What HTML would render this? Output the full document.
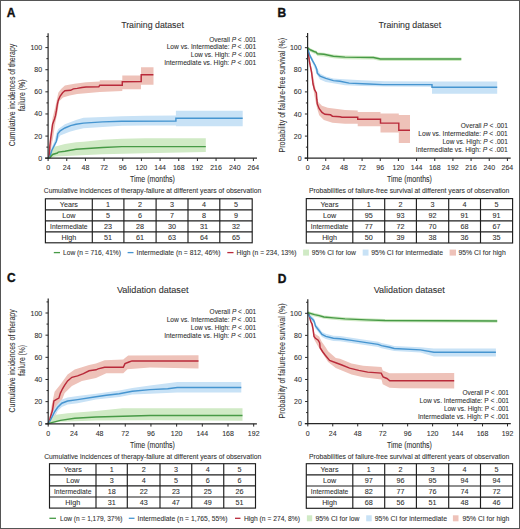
<!DOCTYPE html>
<html><head><meta charset="utf-8"><title>Figure</title>
<style>html,body{margin:0;padding:0;background:#fff;} svg{display:block;} text{font-family:"Liberation Sans",sans-serif;fill:#303030;stroke:#303030;stroke-width:0.08px;}</style>
</head><body>
<svg width="520" height="529" viewBox="0 0 520 529" font-family="Liberation Sans, sans-serif" fill="#3a3a3a">
<rect x="0" y="0" width="520" height="529" fill="#ffffff"/>
<polygon points="48.00,158.00 49.30,150.00 50.70,134.00 52.60,118.00 55.50,106.00 58.30,92.70 61.10,88.90 64.90,85.60 74.40,83.70 86.00,82.30 99.80,81.50 99.80,80.30 122.30,80.30 122.30,75.60 141.00,75.60 141.00,67.20 153.50,67.20 153.50,84.80 141.00,84.80 141.00,89.20 122.30,89.20 122.30,91.00 99.80,92.00 77.20,94.10 69.70,95.50 63.00,97.40 59.20,101.20 57.50,112.00 55.50,122.00 53.00,138.00 50.50,152.00 48.00,158.00" fill="#eec2b9"/>
<polygon points="48.00,158.00 51.00,149.00 54.50,141.00 56.50,133.00 58.30,128.90 64.90,124.20 76.00,119.90 83.50,117.70 121.90,116.20 145.00,115.80 175.90,115.60 175.90,110.70 242.70,110.70 242.70,126.30 175.90,126.30 175.90,125.50 145.00,125.40 121.90,125.80 83.50,128.30 76.00,129.90 69.70,131.80 60.20,135.50 57.60,140.00 54.50,148.00 51.50,154.00 48.00,158.00" fill="#c8e2f6"/>
<polygon points="48.00,158.00 50.50,152.00 53.60,146.90 64.90,144.10 76.00,142.20 83.50,141.70 102.70,139.80 121.90,138.80 145.00,138.20 205.80,138.20 205.80,151.90 145.00,153.30 102.70,154.20 76.00,155.40 55.50,156.40 50.00,158.00 48.00,158.00" fill="#d0eac5"/>
<polyline points="48.00,158.00 49.30,156.40 49.80,146.00 50.70,138.40 51.70,130.80 52.60,124.20 54.50,119.00 55.50,115.70 56.40,110.70 57.40,104.10 58.30,100.30 60.20,96.00 62.60,92.70 64.90,90.80 70.60,90.30 73.40,88.90 77.20,88.40 81.90,87.50 86.00,87.00 98.80,86.90 99.80,85.20 122.30,85.20 122.30,81.80 141.20,81.50 141.20,74.80 153.40,74.80" fill="none" stroke="#b92a3a" stroke-width="1.45" stroke-linejoin="miter"/>
<polyline points="48.00,158.00 49.80,157.30 51.70,150.70 54.50,145.00 56.40,141.20 57.40,136.50 57.80,133.70 60.20,130.80 64.90,128.00 70.60,125.60 76.00,124.20 83.50,123.10 102.70,121.90 121.90,121.20 175.90,121.10 175.90,118.30 242.70,118.30" fill="none" stroke="#4695d0" stroke-width="1.45" stroke-linejoin="miter"/>
<polyline points="48.00,158.00 49.80,157.80 52.60,154.50 57.40,153.00 58.30,152.10 64.90,151.20 76.00,149.30 83.50,148.80 102.70,147.50 121.90,146.60 205.80,146.60" fill="none" stroke="#479a46" stroke-width="1.45" stroke-linejoin="miter"/>
<line x1="48.1" y1="33.2" x2="48.1" y2="158.79999999999998" stroke="#262626" stroke-width="1.2"/>
<line x1="45.1" y1="158.2" x2="257" y2="158.2" stroke="#262626" stroke-width="1.2"/>
<line x1="45.4" y1="158.20" x2="48.1" y2="158.20" stroke="#262626" stroke-width="1"/>
<text x="42.10" y="160.70" font-size="7" text-anchor="end">0</text>
<line x1="46.4" y1="147.14" x2="48.1" y2="147.14" stroke="#262626" stroke-width="1"/>
<line x1="45.4" y1="136.08" x2="48.1" y2="136.08" stroke="#262626" stroke-width="1"/>
<text x="42.10" y="138.58" font-size="7" text-anchor="end">20</text>
<line x1="46.4" y1="125.02" x2="48.1" y2="125.02" stroke="#262626" stroke-width="1"/>
<line x1="45.4" y1="113.96" x2="48.1" y2="113.96" stroke="#262626" stroke-width="1"/>
<text x="42.10" y="116.46" font-size="7" text-anchor="end">40</text>
<line x1="46.4" y1="102.90" x2="48.1" y2="102.90" stroke="#262626" stroke-width="1"/>
<line x1="45.4" y1="91.84" x2="48.1" y2="91.84" stroke="#262626" stroke-width="1"/>
<text x="42.10" y="94.34" font-size="7" text-anchor="end">60</text>
<line x1="46.4" y1="80.78" x2="48.1" y2="80.78" stroke="#262626" stroke-width="1"/>
<line x1="45.4" y1="69.72" x2="48.1" y2="69.72" stroke="#262626" stroke-width="1"/>
<text x="42.10" y="72.22" font-size="7" text-anchor="end">80</text>
<line x1="46.4" y1="58.66" x2="48.1" y2="58.66" stroke="#262626" stroke-width="1"/>
<line x1="45.4" y1="47.60" x2="48.1" y2="47.60" stroke="#262626" stroke-width="1"/>
<text x="42.10" y="50.10" font-size="7" text-anchor="end">100</text>
<line x1="46.4" y1="36.54" x2="48.1" y2="36.54" stroke="#262626" stroke-width="1"/>
<line x1="48.10" y1="158.2" x2="48.10" y2="161.0" stroke="#262626" stroke-width="1"/>
<text x="48.10" y="170.20" font-size="7" text-anchor="middle">0</text>
<line x1="66.76" y1="158.2" x2="66.76" y2="161.0" stroke="#262626" stroke-width="1"/>
<text x="66.76" y="170.20" font-size="7" text-anchor="middle">24</text>
<line x1="85.43" y1="158.2" x2="85.43" y2="161.0" stroke="#262626" stroke-width="1"/>
<text x="85.43" y="170.20" font-size="7" text-anchor="middle">48</text>
<line x1="104.09" y1="158.2" x2="104.09" y2="161.0" stroke="#262626" stroke-width="1"/>
<text x="104.09" y="170.20" font-size="7" text-anchor="middle">72</text>
<line x1="122.75" y1="158.2" x2="122.75" y2="161.0" stroke="#262626" stroke-width="1"/>
<text x="122.75" y="170.20" font-size="7" text-anchor="middle">96</text>
<line x1="141.42" y1="158.2" x2="141.42" y2="161.0" stroke="#262626" stroke-width="1"/>
<text x="141.42" y="170.20" font-size="7" text-anchor="middle">120</text>
<line x1="160.08" y1="158.2" x2="160.08" y2="161.0" stroke="#262626" stroke-width="1"/>
<text x="160.08" y="170.20" font-size="7" text-anchor="middle">144</text>
<line x1="178.75" y1="158.2" x2="178.75" y2="161.0" stroke="#262626" stroke-width="1"/>
<text x="178.75" y="170.20" font-size="7" text-anchor="middle">168</text>
<line x1="197.41" y1="158.2" x2="197.41" y2="161.0" stroke="#262626" stroke-width="1"/>
<text x="197.41" y="170.20" font-size="7" text-anchor="middle">192</text>
<line x1="216.07" y1="158.2" x2="216.07" y2="161.0" stroke="#262626" stroke-width="1"/>
<text x="216.07" y="170.20" font-size="7" text-anchor="middle">216</text>
<line x1="234.74" y1="158.2" x2="234.74" y2="161.0" stroke="#262626" stroke-width="1"/>
<text x="234.74" y="170.20" font-size="7" text-anchor="middle">240</text>
<line x1="253.40" y1="158.2" x2="253.40" y2="161.0" stroke="#262626" stroke-width="1"/>
<text x="253.40" y="170.20" font-size="7" text-anchor="middle">264</text>
<text x="6.80" y="16.90" font-size="12" font-weight="bold" style="fill:#111111;stroke:#111111;stroke-width:0.35px">A</text>
<text x="121.15" y="27.80" font-size="9.6" textLength="62.7" lengthAdjust="spacingAndGlyphs">Training dataset</text>
<text x="209.20" y="41.50" font-size="7.4" textLength="47.0" lengthAdjust="spacingAndGlyphs">Overall <tspan font-style="italic">P</tspan> &lt; .001</text>
<text x="166.70" y="49.20" font-size="7.4" textLength="89.5" lengthAdjust="spacingAndGlyphs">Low vs. Intermediate: <tspan font-style="italic">P</tspan> &lt; .001</text>
<text x="190.80" y="57.10" font-size="7.4" textLength="65.39999999999998" lengthAdjust="spacingAndGlyphs">Low vs. High: <tspan font-style="italic">P</tspan> &lt; .001</text>
<text x="164.20" y="64.80" font-size="7.4" textLength="92.0" lengthAdjust="spacingAndGlyphs">Intermediate vs. High: <tspan font-style="italic">P</tspan> &lt; .001</text>
<text x="-51.25" y="0" transform="translate(15.30,95.00) rotate(-90)" font-size="8.8" textLength="102.5" lengthAdjust="spacingAndGlyphs">Cumulative incidences of therapy</text>
<text x="-15.75" y="0" transform="translate(25.20,95.30) rotate(-90)" font-size="8.8" textLength="31.5" lengthAdjust="spacingAndGlyphs">failure (%)</text>
<text x="129.90" y="182.30" font-size="8.4" textLength="45" lengthAdjust="spacingAndGlyphs">Time (months)</text>
<text x="43.80" y="193.20" font-size="7.6" textLength="217.4" lengthAdjust="spacingAndGlyphs">Cumulative incidences of therapy-failure at different years of observation</text>
<rect x="45.4" y="198.8" width="206.79999999999998" height="44.0" fill="none" stroke="#1e1e1e" stroke-width="1.15"/>
<line x1="45.4" y1="209.8" x2="252.2" y2="209.8" stroke="#1e1e1e" stroke-width="1.15"/>
<line x1="45.4" y1="220.8" x2="252.2" y2="220.8" stroke="#1e1e1e" stroke-width="1.15"/>
<line x1="45.4" y1="231.8" x2="252.2" y2="231.8" stroke="#1e1e1e" stroke-width="1.15"/>
<line x1="92.3" y1="198.8" x2="92.3" y2="242.8" stroke="#1e1e1e" stroke-width="1.15"/>
<line x1="123.9" y1="198.8" x2="123.9" y2="242.8" stroke="#1e1e1e" stroke-width="1.15"/>
<line x1="156.1" y1="198.8" x2="156.1" y2="242.8" stroke="#1e1e1e" stroke-width="1.15"/>
<line x1="188" y1="198.8" x2="188" y2="242.8" stroke="#1e1e1e" stroke-width="1.15"/>
<line x1="219.8" y1="198.8" x2="219.8" y2="242.8" stroke="#1e1e1e" stroke-width="1.15"/>
<text x="68.85" y="206.90" font-size="7.2" text-anchor="middle">Years</text>
<text x="108.10" y="206.90" font-size="7.2" text-anchor="middle">1</text>
<text x="140.00" y="206.90" font-size="7.2" text-anchor="middle">2</text>
<text x="172.05" y="206.90" font-size="7.2" text-anchor="middle">3</text>
<text x="203.90" y="206.90" font-size="7.2" text-anchor="middle">4</text>
<text x="236.00" y="206.90" font-size="7.2" text-anchor="middle">5</text>
<text x="68.85" y="217.90" font-size="7.2" text-anchor="middle">Low</text>
<text x="108.10" y="217.90" font-size="7.2" text-anchor="middle">5</text>
<text x="140.00" y="217.90" font-size="7.2" text-anchor="middle">6</text>
<text x="172.05" y="217.90" font-size="7.2" text-anchor="middle">7</text>
<text x="203.90" y="217.90" font-size="7.2" text-anchor="middle">8</text>
<text x="236.00" y="217.90" font-size="7.2" text-anchor="middle">9</text>
<text x="50.10" y="228.90" font-size="7.2" textLength="37.5" lengthAdjust="spacingAndGlyphs">Intermediate</text>
<text x="108.10" y="228.90" font-size="7.2" text-anchor="middle">23</text>
<text x="140.00" y="228.90" font-size="7.2" text-anchor="middle">28</text>
<text x="172.05" y="228.90" font-size="7.2" text-anchor="middle">30</text>
<text x="203.90" y="228.90" font-size="7.2" text-anchor="middle">31</text>
<text x="236.00" y="228.90" font-size="7.2" text-anchor="middle">32</text>
<text x="68.85" y="239.90" font-size="7.2" text-anchor="middle">High</text>
<text x="108.10" y="239.90" font-size="7.2" text-anchor="middle">51</text>
<text x="140.00" y="239.90" font-size="7.2" text-anchor="middle">61</text>
<text x="172.05" y="239.90" font-size="7.2" text-anchor="middle">63</text>
<text x="203.90" y="239.90" font-size="7.2" text-anchor="middle">64</text>
<text x="236.00" y="239.90" font-size="7.2" text-anchor="middle">65</text>
<line x1="53.8" y1="252.6" x2="60" y2="252.6" stroke="#479a46" stroke-width="1.3"/>
<text x="63.00" y="255.10" font-size="7.2" textLength="58" lengthAdjust="spacingAndGlyphs">Low (n = 716, 41%)</text>
<line x1="127.6" y1="252.6" x2="133.5" y2="252.6" stroke="#4695d0" stroke-width="1.3"/>
<text x="136.50" y="255.10" font-size="7.2" textLength="84" lengthAdjust="spacingAndGlyphs">Intermediate (n = 812, 46%)</text>
<line x1="227.3" y1="252.6" x2="233.5" y2="252.6" stroke="#b92a3a" stroke-width="1.3"/>
<text x="236.60" y="255.10" font-size="7.2" textLength="60" lengthAdjust="spacingAndGlyphs">High (n = 234, 13%)</text>
<rect x="303.1" y="249.6" width="5.899999999999977" height="6" fill="#d0eac5"/>
<text x="311.80" y="255.10" font-size="7.2" textLength="44" lengthAdjust="spacingAndGlyphs">95% CI for low</text>
<rect x="362.7" y="249.6" width="5.800000000000011" height="6" fill="#c8e2f6"/>
<text x="371.30" y="255.10" font-size="7.2" textLength="71.7" lengthAdjust="spacingAndGlyphs">95% CI for intermediate</text>
<rect x="449.6" y="249.6" width="6.399999999999977" height="6" fill="#eec2b9"/>
<text x="458.50" y="255.10" font-size="7.2" textLength="47.2" lengthAdjust="spacingAndGlyphs">95% CI for high</text>
<polygon points="307.50,47.70 309.00,56.00 312.00,70.00 315.00,86.00 318.20,102.00 322.00,105.80 327.70,107.70 345.00,110.10 357.70,110.50 357.70,112.00 380.50,112.00 380.50,113.50 398.80,113.50 398.80,115.00 410.00,115.00 410.00,143.10 398.80,143.10 398.80,132.60 380.50,132.60 380.50,126.20 357.70,126.20 357.70,123.80 345.00,123.80 332.40,122.80 323.90,120.00 319.20,115.30 317.00,108.00 314.50,96.00 312.00,80.00 309.50,64.00 307.50,48.00" fill="#eec2b9"/>
<polygon points="307.50,47.70 310.00,54.00 313.00,59.00 316.50,67.00 320.00,73.50 325.80,76.50 333.40,78.40 340.00,79.00 361.70,80.30 385.00,81.30 432.00,81.50 497.20,81.50 497.20,93.70 432.00,93.70 432.00,86.80 385.00,86.60 361.70,86.10 345.00,85.20 325.80,81.90 320.00,79.50 317.00,74.50 313.00,64.00 310.00,57.00 307.50,48.00" fill="#c8e2f6"/>
<polygon points="307.50,46.10 307.80,46.50 310.70,48.40 314.00,49.90 316.40,50.80 317.30,52.20 323.90,52.70 333.40,54.60 345.00,55.50 373.40,55.90 380.40,57.40 420.00,57.40 461.30,57.40 461.30,61.10 420.00,61.10 380.40,61.10 373.40,59.60 345.00,59.20 333.40,58.30 323.90,56.40 317.30,55.90 316.40,54.50 314.00,53.60 310.70,52.10 307.80,50.20 307.50,49.80" fill="#d0eac5"/>
<polyline points="307.50,47.70 308.30,51.50 309.30,60.90 310.20,65.70 311.60,72.30 313.00,84.00 314.50,89.70 316.40,93.00 316.80,99.20 317.30,103.90 319.20,108.70 322.00,112.40 324.90,114.30 330.50,114.80 332.40,116.20 340.00,116.70 341.90,117.30 357.70,117.30 357.70,119.20 380.50,119.20 380.50,123.10 398.80,123.10 398.80,130.30 410.00,130.30" fill="none" stroke="#b92a3a" stroke-width="1.45" stroke-linejoin="miter"/>
<polyline points="307.50,47.70 308.30,50.50 309.70,55.20 312.60,60.90 315.40,65.70 316.80,69.40 317.30,73.20 320.10,76.10 325.80,78.40 333.40,80.60 340.00,81.30 349.20,83.10 368.80,84.00 382.70,84.60 432.00,84.60 432.00,87.20 497.20,87.20" fill="none" stroke="#4695d0" stroke-width="1.45" stroke-linejoin="miter"/>
<polyline points="307.50,47.70 307.80,48.10 310.70,50.00 314.00,51.50 316.40,52.40 317.30,53.80 323.90,54.30 333.40,56.20 345.00,57.10 373.40,57.50 380.40,59.00 420.00,59.00 461.30,59.00" fill="none" stroke="#479a46" stroke-width="1.45" stroke-linejoin="miter"/>
<line x1="307.6" y1="33.0" x2="307.6" y2="158.79999999999998" stroke="#262626" stroke-width="1.2"/>
<line x1="304.6" y1="158.2" x2="510.7" y2="158.2" stroke="#262626" stroke-width="1.2"/>
<line x1="304.90000000000003" y1="158.20" x2="307.6" y2="158.20" stroke="#262626" stroke-width="1"/>
<text x="301.60" y="160.70" font-size="7" text-anchor="end">0</text>
<line x1="305.90000000000003" y1="147.15" x2="307.6" y2="147.15" stroke="#262626" stroke-width="1"/>
<line x1="304.90000000000003" y1="136.10" x2="307.6" y2="136.10" stroke="#262626" stroke-width="1"/>
<text x="301.60" y="138.60" font-size="7" text-anchor="end">20</text>
<line x1="305.90000000000003" y1="125.05" x2="307.6" y2="125.05" stroke="#262626" stroke-width="1"/>
<line x1="304.90000000000003" y1="114.00" x2="307.6" y2="114.00" stroke="#262626" stroke-width="1"/>
<text x="301.60" y="116.50" font-size="7" text-anchor="end">40</text>
<line x1="305.90000000000003" y1="102.95" x2="307.6" y2="102.95" stroke="#262626" stroke-width="1"/>
<line x1="304.90000000000003" y1="91.90" x2="307.6" y2="91.90" stroke="#262626" stroke-width="1"/>
<text x="301.60" y="94.40" font-size="7" text-anchor="end">60</text>
<line x1="305.90000000000003" y1="80.85" x2="307.6" y2="80.85" stroke="#262626" stroke-width="1"/>
<line x1="304.90000000000003" y1="69.80" x2="307.6" y2="69.80" stroke="#262626" stroke-width="1"/>
<text x="301.60" y="72.30" font-size="7" text-anchor="end">80</text>
<line x1="305.90000000000003" y1="58.75" x2="307.6" y2="58.75" stroke="#262626" stroke-width="1"/>
<line x1="304.90000000000003" y1="47.70" x2="307.6" y2="47.70" stroke="#262626" stroke-width="1"/>
<text x="301.60" y="50.20" font-size="7" text-anchor="end">100</text>
<line x1="305.90000000000003" y1="36.65" x2="307.6" y2="36.65" stroke="#262626" stroke-width="1"/>
<line x1="307.60" y1="158.2" x2="307.60" y2="161.0" stroke="#262626" stroke-width="1"/>
<text x="307.60" y="170.20" font-size="7" text-anchor="middle">0</text>
<line x1="325.76" y1="158.2" x2="325.76" y2="161.0" stroke="#262626" stroke-width="1"/>
<text x="325.76" y="170.20" font-size="7" text-anchor="middle">24</text>
<line x1="343.93" y1="158.2" x2="343.93" y2="161.0" stroke="#262626" stroke-width="1"/>
<text x="343.93" y="170.20" font-size="7" text-anchor="middle">48</text>
<line x1="362.09" y1="158.2" x2="362.09" y2="161.0" stroke="#262626" stroke-width="1"/>
<text x="362.09" y="170.20" font-size="7" text-anchor="middle">72</text>
<line x1="380.25" y1="158.2" x2="380.25" y2="161.0" stroke="#262626" stroke-width="1"/>
<text x="380.25" y="170.20" font-size="7" text-anchor="middle">96</text>
<line x1="398.42" y1="158.2" x2="398.42" y2="161.0" stroke="#262626" stroke-width="1"/>
<text x="398.42" y="170.20" font-size="7" text-anchor="middle">120</text>
<line x1="416.58" y1="158.2" x2="416.58" y2="161.0" stroke="#262626" stroke-width="1"/>
<text x="416.58" y="170.20" font-size="7" text-anchor="middle">144</text>
<line x1="434.75" y1="158.2" x2="434.75" y2="161.0" stroke="#262626" stroke-width="1"/>
<text x="434.75" y="170.20" font-size="7" text-anchor="middle">168</text>
<line x1="452.91" y1="158.2" x2="452.91" y2="161.0" stroke="#262626" stroke-width="1"/>
<text x="452.91" y="170.20" font-size="7" text-anchor="middle">192</text>
<line x1="471.07" y1="158.2" x2="471.07" y2="161.0" stroke="#262626" stroke-width="1"/>
<text x="471.07" y="170.20" font-size="7" text-anchor="middle">216</text>
<line x1="489.24" y1="158.2" x2="489.24" y2="161.0" stroke="#262626" stroke-width="1"/>
<text x="489.24" y="170.20" font-size="7" text-anchor="middle">240</text>
<line x1="507.40" y1="158.2" x2="507.40" y2="161.0" stroke="#262626" stroke-width="1"/>
<text x="507.40" y="170.20" font-size="7" text-anchor="middle">264</text>
<text x="277.50" y="16.90" font-size="12" font-weight="bold" style="fill:#111111;stroke:#111111;stroke-width:0.35px">B</text>
<text x="378.50" y="27.80" font-size="9.6" textLength="62.6" lengthAdjust="spacingAndGlyphs">Training dataset</text>
<text x="460.80" y="128.10" font-size="7.4" textLength="47.0" lengthAdjust="spacingAndGlyphs">Overall <tspan font-style="italic">P</tspan> &lt; .001</text>
<text x="418.30" y="136.10" font-size="7.4" textLength="89.5" lengthAdjust="spacingAndGlyphs">Low vs. Intermediate: <tspan font-style="italic">P</tspan> &lt; .001</text>
<text x="442.50" y="143.90" font-size="7.4" textLength="65.30000000000001" lengthAdjust="spacingAndGlyphs">Low vs. High: <tspan font-style="italic">P</tspan> &lt; .001</text>
<text x="415.80" y="151.90" font-size="7.4" textLength="92.0" lengthAdjust="spacingAndGlyphs">Intermediate vs. High: <tspan font-style="italic">P</tspan> &lt; .001</text>
<text x="-57.25" y="0" transform="translate(284.90,95.20) rotate(-90)" font-size="8.6" textLength="114.5" lengthAdjust="spacingAndGlyphs">Probability of failure-free survival (%)</text>
<text x="386.90" y="182.30" font-size="8.4" textLength="45" lengthAdjust="spacingAndGlyphs">Time (months)</text>
<text x="309.00" y="193.20" font-size="7.6" textLength="200.4" lengthAdjust="spacingAndGlyphs">Probabilities of failure-free survival at different years of observation</text>
<rect x="306.3" y="198.6" width="206.3" height="44.400000000000006" fill="none" stroke="#1e1e1e" stroke-width="1.15"/>
<line x1="306.3" y1="209.7" x2="512.6" y2="209.7" stroke="#1e1e1e" stroke-width="1.15"/>
<line x1="306.3" y1="220.79999999999998" x2="512.6" y2="220.79999999999998" stroke="#1e1e1e" stroke-width="1.15"/>
<line x1="306.3" y1="231.89999999999998" x2="512.6" y2="231.89999999999998" stroke="#1e1e1e" stroke-width="1.15"/>
<line x1="352.8" y1="198.6" x2="352.8" y2="243.0" stroke="#1e1e1e" stroke-width="1.15"/>
<line x1="384.7" y1="198.6" x2="384.7" y2="243.0" stroke="#1e1e1e" stroke-width="1.15"/>
<line x1="416.4" y1="198.6" x2="416.4" y2="243.0" stroke="#1e1e1e" stroke-width="1.15"/>
<line x1="448.7" y1="198.6" x2="448.7" y2="243.0" stroke="#1e1e1e" stroke-width="1.15"/>
<line x1="480.5" y1="198.6" x2="480.5" y2="243.0" stroke="#1e1e1e" stroke-width="1.15"/>
<text x="329.55" y="206.75" font-size="7.2" text-anchor="middle">Years</text>
<text x="368.75" y="206.75" font-size="7.2" text-anchor="middle">1</text>
<text x="400.55" y="206.75" font-size="7.2" text-anchor="middle">2</text>
<text x="432.55" y="206.75" font-size="7.2" text-anchor="middle">3</text>
<text x="464.60" y="206.75" font-size="7.2" text-anchor="middle">4</text>
<text x="496.55" y="206.75" font-size="7.2" text-anchor="middle">5</text>
<text x="329.55" y="217.85" font-size="7.2" text-anchor="middle">Low</text>
<text x="368.75" y="217.85" font-size="7.2" text-anchor="middle">95</text>
<text x="400.55" y="217.85" font-size="7.2" text-anchor="middle">93</text>
<text x="432.55" y="217.85" font-size="7.2" text-anchor="middle">92</text>
<text x="464.60" y="217.85" font-size="7.2" text-anchor="middle">91</text>
<text x="496.55" y="217.85" font-size="7.2" text-anchor="middle">91</text>
<text x="310.80" y="228.95" font-size="7.2" textLength="37.5" lengthAdjust="spacingAndGlyphs">Intermediate</text>
<text x="368.75" y="228.95" font-size="7.2" text-anchor="middle">77</text>
<text x="400.55" y="228.95" font-size="7.2" text-anchor="middle">72</text>
<text x="432.55" y="228.95" font-size="7.2" text-anchor="middle">70</text>
<text x="464.60" y="228.95" font-size="7.2" text-anchor="middle">68</text>
<text x="496.55" y="228.95" font-size="7.2" text-anchor="middle">67</text>
<text x="329.55" y="240.05" font-size="7.2" text-anchor="middle">High</text>
<text x="368.75" y="240.05" font-size="7.2" text-anchor="middle">50</text>
<text x="400.55" y="240.05" font-size="7.2" text-anchor="middle">39</text>
<text x="432.55" y="240.05" font-size="7.2" text-anchor="middle">38</text>
<text x="464.60" y="240.05" font-size="7.2" text-anchor="middle">36</text>
<text x="496.55" y="240.05" font-size="7.2" text-anchor="middle">35</text>
<polygon points="48.00,423.60 50.00,415.00 51.70,405.30 54.60,391.70 60.40,384.50 67.60,374.40 74.70,369.40 89.10,365.10 96.00,363.60 104.60,360.30 123.30,359.50 125.00,357.90 128.20,355.40 198.50,355.20 198.50,368.50 150.00,367.60 127.40,369.30 123.30,373.30 106.30,373.30 96.00,378.00 81.90,380.90 71.90,385.90 64.70,393.10 58.90,407.50 54.60,417.50 50.00,423.60 48.00,423.60" fill="#eec2b9"/>
<polygon points="48.00,423.60 50.30,417.00 54.60,408.00 57.50,404.00 61.80,399.60 67.60,397.50 77.60,396.00 96.00,393.80 119.30,390.50 132.30,388.00 150.00,385.50 177.30,382.00 241.30,381.90 241.30,392.60 177.30,392.60 150.00,393.70 132.30,394.50 119.30,397.00 96.00,399.60 77.60,403.20 67.60,404.50 61.80,407.00 57.50,411.00 54.60,415.50 50.30,422.00 48.00,423.60" fill="#c8e2f6"/>
<polygon points="48.00,423.60 51.00,419.00 56.10,414.70 67.60,413.20 96.00,411.00 122.50,408.30 242.50,408.30 242.50,420.70 150.00,420.20 96.00,420.60 60.00,421.80 50.00,423.60" fill="#d0eac5"/>
<polyline points="48.00,423.60 49.50,421.00 50.30,417.50 52.50,410.30 53.90,401.00 56.10,399.60 58.90,398.10 60.40,393.10 62.50,388.80 64.70,385.20 67.60,380.90 71.90,377.30 77.60,375.90 83.40,373.70 89.10,370.80 96.00,369.80 98.10,368.90 104.60,367.30 123.30,367.30 125.00,363.60 129.00,362.00 132.00,360.90 198.50,360.90" fill="none" stroke="#b92a3a" stroke-width="1.45" stroke-linejoin="miter"/>
<polyline points="48.00,423.60 50.30,420.40 54.60,411.80 57.50,407.50 61.80,403.20 67.60,401.00 77.60,399.60 96.00,396.70 106.30,395.30 119.30,393.70 132.30,391.20 150.00,389.60 167.70,388.80 177.30,387.50 241.30,387.50" fill="none" stroke="#4695d0" stroke-width="1.45" stroke-linejoin="miter"/>
<polyline points="48.00,423.60 51.70,422.60 60.40,420.40 74.70,418.20 96.00,417.00 150.00,415.50 242.50,415.50" fill="none" stroke="#479a46" stroke-width="1.45" stroke-linejoin="miter"/>
<line x1="48.2" y1="298.5" x2="48.2" y2="424.40000000000003" stroke="#262626" stroke-width="1.2"/>
<line x1="45.2" y1="423.8" x2="256.9" y2="423.8" stroke="#262626" stroke-width="1.2"/>
<line x1="45.5" y1="423.80" x2="48.2" y2="423.80" stroke="#262626" stroke-width="1"/>
<text x="42.20" y="426.30" font-size="7" text-anchor="end">0</text>
<line x1="46.5" y1="412.72" x2="48.2" y2="412.72" stroke="#262626" stroke-width="1"/>
<line x1="45.5" y1="401.64" x2="48.2" y2="401.64" stroke="#262626" stroke-width="1"/>
<text x="42.20" y="404.14" font-size="7" text-anchor="end">20</text>
<line x1="46.5" y1="390.56" x2="48.2" y2="390.56" stroke="#262626" stroke-width="1"/>
<line x1="45.5" y1="379.48" x2="48.2" y2="379.48" stroke="#262626" stroke-width="1"/>
<text x="42.20" y="381.98" font-size="7" text-anchor="end">40</text>
<line x1="46.5" y1="368.40" x2="48.2" y2="368.40" stroke="#262626" stroke-width="1"/>
<line x1="45.5" y1="357.32" x2="48.2" y2="357.32" stroke="#262626" stroke-width="1"/>
<text x="42.20" y="359.82" font-size="7" text-anchor="end">60</text>
<line x1="46.5" y1="346.24" x2="48.2" y2="346.24" stroke="#262626" stroke-width="1"/>
<line x1="45.5" y1="335.16" x2="48.2" y2="335.16" stroke="#262626" stroke-width="1"/>
<text x="42.20" y="337.66" font-size="7" text-anchor="end">80</text>
<line x1="46.5" y1="324.08" x2="48.2" y2="324.08" stroke="#262626" stroke-width="1"/>
<line x1="45.5" y1="313.00" x2="48.2" y2="313.00" stroke="#262626" stroke-width="1"/>
<text x="42.20" y="315.50" font-size="7" text-anchor="end">100</text>
<line x1="46.5" y1="301.92" x2="48.2" y2="301.92" stroke="#262626" stroke-width="1"/>
<line x1="48.20" y1="423.8" x2="48.20" y2="426.6" stroke="#262626" stroke-width="1"/>
<text x="48.20" y="435.80" font-size="7" text-anchor="middle">0</text>
<line x1="73.89" y1="423.8" x2="73.89" y2="426.6" stroke="#262626" stroke-width="1"/>
<text x="73.89" y="435.80" font-size="7" text-anchor="middle">24</text>
<line x1="99.58" y1="423.8" x2="99.58" y2="426.6" stroke="#262626" stroke-width="1"/>
<text x="99.58" y="435.80" font-size="7" text-anchor="middle">48</text>
<line x1="125.26" y1="423.8" x2="125.26" y2="426.6" stroke="#262626" stroke-width="1"/>
<text x="125.26" y="435.80" font-size="7" text-anchor="middle">72</text>
<line x1="150.95" y1="423.8" x2="150.95" y2="426.6" stroke="#262626" stroke-width="1"/>
<text x="150.95" y="435.80" font-size="7" text-anchor="middle">96</text>
<line x1="176.64" y1="423.8" x2="176.64" y2="426.6" stroke="#262626" stroke-width="1"/>
<text x="176.64" y="435.80" font-size="7" text-anchor="middle">120</text>
<line x1="202.32" y1="423.8" x2="202.32" y2="426.6" stroke="#262626" stroke-width="1"/>
<text x="202.32" y="435.80" font-size="7" text-anchor="middle">144</text>
<line x1="228.01" y1="423.8" x2="228.01" y2="426.6" stroke="#262626" stroke-width="1"/>
<text x="228.01" y="435.80" font-size="7" text-anchor="middle">168</text>
<line x1="253.70" y1="423.8" x2="253.70" y2="426.6" stroke="#262626" stroke-width="1"/>
<text x="253.70" y="435.80" font-size="7" text-anchor="middle">192</text>
<text x="7.00" y="282.40" font-size="12" font-weight="bold" style="fill:#111111;stroke:#111111;stroke-width:0.35px">C</text>
<text x="116.90" y="292.80" font-size="9.6" textLength="71.6" lengthAdjust="spacingAndGlyphs">Validation dataset</text>
<text x="209.60" y="314.40" font-size="7.4" textLength="46.599999999999994" lengthAdjust="spacingAndGlyphs">Overall <tspan font-style="italic">P</tspan> &lt; .001</text>
<text x="166.70" y="322.10" font-size="7.4" textLength="89.5" lengthAdjust="spacingAndGlyphs">Low vs. Intermediate: <tspan font-style="italic">P</tspan> &lt; .001</text>
<text x="190.80" y="329.80" font-size="7.4" textLength="65.39999999999998" lengthAdjust="spacingAndGlyphs">Low vs. High: <tspan font-style="italic">P</tspan> &lt; .001</text>
<text x="164.20" y="337.50" font-size="7.4" textLength="92.0" lengthAdjust="spacingAndGlyphs">Intermediate vs. High: <tspan font-style="italic">P</tspan> &lt; .001</text>
<text x="-51.65" y="0" transform="translate(15.00,360.90) rotate(-90)" font-size="8.8" textLength="103.3" lengthAdjust="spacingAndGlyphs">Cumulative incidences of therapy</text>
<text x="-15.35" y="0" transform="translate(25.00,360.30) rotate(-90)" font-size="8.8" textLength="30.7" lengthAdjust="spacingAndGlyphs">failure (%)</text>
<text x="129.90" y="447.50" font-size="8.4" textLength="45" lengthAdjust="spacingAndGlyphs">Time (months)</text>
<text x="44.20" y="459.20" font-size="7.6" textLength="217" lengthAdjust="spacingAndGlyphs">Cumulative incidences of therapy-failure at different years of observation</text>
<rect x="49.5" y="463.7" width="206.0" height="44.39999999999998" fill="none" stroke="#1e1e1e" stroke-width="1.15"/>
<line x1="49.5" y1="474.8" x2="255.5" y2="474.8" stroke="#1e1e1e" stroke-width="1.15"/>
<line x1="49.5" y1="485.9" x2="255.5" y2="485.9" stroke="#1e1e1e" stroke-width="1.15"/>
<line x1="49.5" y1="497.0" x2="255.5" y2="497.0" stroke="#1e1e1e" stroke-width="1.15"/>
<line x1="96" y1="463.7" x2="96" y2="508.09999999999997" stroke="#1e1e1e" stroke-width="1.15"/>
<line x1="127.3" y1="463.7" x2="127.3" y2="508.09999999999997" stroke="#1e1e1e" stroke-width="1.15"/>
<line x1="160" y1="463.7" x2="160" y2="508.09999999999997" stroke="#1e1e1e" stroke-width="1.15"/>
<line x1="191.75" y1="463.7" x2="191.75" y2="508.09999999999997" stroke="#1e1e1e" stroke-width="1.15"/>
<line x1="223.75" y1="463.7" x2="223.75" y2="508.09999999999997" stroke="#1e1e1e" stroke-width="1.15"/>
<text x="72.75" y="471.85" font-size="7.2" text-anchor="middle">Years</text>
<text x="111.65" y="471.85" font-size="7.2" text-anchor="middle">1</text>
<text x="143.65" y="471.85" font-size="7.2" text-anchor="middle">2</text>
<text x="175.88" y="471.85" font-size="7.2" text-anchor="middle">3</text>
<text x="207.75" y="471.85" font-size="7.2" text-anchor="middle">4</text>
<text x="239.62" y="471.85" font-size="7.2" text-anchor="middle">5</text>
<text x="72.75" y="482.95" font-size="7.2" text-anchor="middle">Low</text>
<text x="111.65" y="482.95" font-size="7.2" text-anchor="middle">3</text>
<text x="143.65" y="482.95" font-size="7.2" text-anchor="middle">4</text>
<text x="175.88" y="482.95" font-size="7.2" text-anchor="middle">5</text>
<text x="207.75" y="482.95" font-size="7.2" text-anchor="middle">6</text>
<text x="239.62" y="482.95" font-size="7.2" text-anchor="middle">6</text>
<text x="54.00" y="494.05" font-size="7.2" textLength="37.5" lengthAdjust="spacingAndGlyphs">Intermediate</text>
<text x="111.65" y="494.05" font-size="7.2" text-anchor="middle">18</text>
<text x="143.65" y="494.05" font-size="7.2" text-anchor="middle">22</text>
<text x="175.88" y="494.05" font-size="7.2" text-anchor="middle">23</text>
<text x="207.75" y="494.05" font-size="7.2" text-anchor="middle">25</text>
<text x="239.62" y="494.05" font-size="7.2" text-anchor="middle">26</text>
<text x="72.75" y="505.15" font-size="7.2" text-anchor="middle">High</text>
<text x="111.65" y="505.15" font-size="7.2" text-anchor="middle">31</text>
<text x="143.65" y="505.15" font-size="7.2" text-anchor="middle">43</text>
<text x="175.88" y="505.15" font-size="7.2" text-anchor="middle">47</text>
<text x="207.75" y="505.15" font-size="7.2" text-anchor="middle">49</text>
<text x="239.62" y="505.15" font-size="7.2" text-anchor="middle">51</text>
<polygon points="307.70,313.30 310.00,318.00 312.50,324.00 314.50,333.50 319.20,336.40 321.60,341.50 325.80,347.50 328.10,351.20 335.80,358.10 340.00,358.80 351.50,363.40 363.10,365.80 381.50,366.90 382.70,370.40 389.60,373.20 454.20,373.10 454.20,388.50 400.00,388.20 389.60,387.70 382.70,384.20 381.50,379.60 363.10,377.30 351.50,374.40 340.00,369.80 335.80,368.10 328.10,361.90 322.00,352.50 317.30,344.90 314.00,339.20 312.50,330.00 310.50,322.00 307.70,313.30" fill="#eec2b9"/>
<polygon points="307.70,310.70 308.30,310.60 309.70,313.90 311.60,315.80 313.50,317.70 314.50,319.60 315.40,323.40 319.20,328.10 322.00,331.90 325.80,333.80 333.40,335.70 340.00,336.10 351.50,337.80 363.10,339.50 378.10,341.80 381.50,343.00 389.60,344.70 394.20,345.90 420.40,347.30 433.90,348.50 495.90,348.50 495.90,356.60 433.90,356.60 420.40,352.50 394.20,351.10 389.60,349.90 381.50,348.20 378.10,347.00 363.10,344.70 351.50,343.00 340.00,341.30 333.40,340.90 325.80,339.00 322.00,337.10 319.20,333.30 315.40,328.60 314.50,324.80 313.50,322.90 311.60,321.00 309.70,319.10 308.30,315.80 307.70,315.90" fill="#c8e2f6"/>
<polygon points="307.70,311.70 308.30,311.30 314.50,313.00 319.20,314.00 323.90,315.40 333.40,316.30 345.00,317.30 366.50,318.30 385.00,318.90 497.20,319.40 497.20,322.80 385.00,322.30 366.50,321.70 345.00,320.70 333.40,319.70 323.90,318.80 319.20,317.40 314.50,316.40 308.30,314.70 307.70,315.10" fill="#d0eac5"/>
<polyline points="307.70,313.30 308.80,313.70 310.20,319.40 310.70,321.20 312.10,324.10 313.00,328.80 314.00,336.40 315.40,338.30 318.20,340.20 319.70,343.00 320.10,347.70 322.50,351.50 325.30,355.30 329.60,360.40 335.80,362.70 341.90,365.00 349.60,368.10 358.80,370.40 367.70,372.10 381.20,373.10 383.10,376.90 386.90,378.50 389.80,380.80 454.20,380.80" fill="none" stroke="#b92a3a" stroke-width="1.45" stroke-linejoin="miter"/>
<polyline points="307.70,313.30 308.30,313.20 309.70,316.50 311.60,318.40 313.50,320.30 314.50,322.20 315.40,326.00 319.20,330.70 322.00,334.50 325.80,336.40 333.40,338.30 340.00,338.70 351.50,340.40 363.10,342.10 378.10,344.40 381.50,345.60 389.60,347.30 394.20,348.50 420.40,349.90 433.90,352.30 495.90,352.30" fill="none" stroke="#4695d0" stroke-width="1.45" stroke-linejoin="miter"/>
<polyline points="307.70,313.30 308.30,312.90 314.50,314.60 319.20,315.60 323.90,317.00 333.40,317.90 345.00,318.90 366.50,319.90 385.00,320.50 497.20,321.00" fill="none" stroke="#479a46" stroke-width="1.45" stroke-linejoin="miter"/>
<line x1="307.8" y1="299.3" x2="307.8" y2="424.20000000000005" stroke="#262626" stroke-width="1.2"/>
<line x1="304.8" y1="423.6" x2="510.8" y2="423.6" stroke="#262626" stroke-width="1.2"/>
<line x1="305.1" y1="423.60" x2="307.8" y2="423.60" stroke="#262626" stroke-width="1"/>
<text x="301.80" y="426.10" font-size="7" text-anchor="end">0</text>
<line x1="306.1" y1="412.57" x2="307.8" y2="412.57" stroke="#262626" stroke-width="1"/>
<line x1="305.1" y1="401.54" x2="307.8" y2="401.54" stroke="#262626" stroke-width="1"/>
<text x="301.80" y="404.04" font-size="7" text-anchor="end">20</text>
<line x1="306.1" y1="390.51" x2="307.8" y2="390.51" stroke="#262626" stroke-width="1"/>
<line x1="305.1" y1="379.48" x2="307.8" y2="379.48" stroke="#262626" stroke-width="1"/>
<text x="301.80" y="381.98" font-size="7" text-anchor="end">40</text>
<line x1="306.1" y1="368.45" x2="307.8" y2="368.45" stroke="#262626" stroke-width="1"/>
<line x1="305.1" y1="357.42" x2="307.8" y2="357.42" stroke="#262626" stroke-width="1"/>
<text x="301.80" y="359.92" font-size="7" text-anchor="end">60</text>
<line x1="306.1" y1="346.39" x2="307.8" y2="346.39" stroke="#262626" stroke-width="1"/>
<line x1="305.1" y1="335.36" x2="307.8" y2="335.36" stroke="#262626" stroke-width="1"/>
<text x="301.80" y="337.86" font-size="7" text-anchor="end">80</text>
<line x1="306.1" y1="324.33" x2="307.8" y2="324.33" stroke="#262626" stroke-width="1"/>
<line x1="305.1" y1="313.30" x2="307.8" y2="313.30" stroke="#262626" stroke-width="1"/>
<text x="301.80" y="315.80" font-size="7" text-anchor="end">100</text>
<line x1="306.1" y1="302.27" x2="307.8" y2="302.27" stroke="#262626" stroke-width="1"/>
<line x1="307.80" y1="423.6" x2="307.80" y2="426.40000000000003" stroke="#262626" stroke-width="1"/>
<text x="307.80" y="435.60" font-size="7" text-anchor="middle">0</text>
<line x1="332.76" y1="423.6" x2="332.76" y2="426.40000000000003" stroke="#262626" stroke-width="1"/>
<text x="332.76" y="435.60" font-size="7" text-anchor="middle">24</text>
<line x1="357.73" y1="423.6" x2="357.73" y2="426.40000000000003" stroke="#262626" stroke-width="1"/>
<text x="357.73" y="435.60" font-size="7" text-anchor="middle">48</text>
<line x1="382.69" y1="423.6" x2="382.69" y2="426.40000000000003" stroke="#262626" stroke-width="1"/>
<text x="382.69" y="435.60" font-size="7" text-anchor="middle">72</text>
<line x1="407.65" y1="423.6" x2="407.65" y2="426.40000000000003" stroke="#262626" stroke-width="1"/>
<text x="407.65" y="435.60" font-size="7" text-anchor="middle">96</text>
<line x1="432.61" y1="423.6" x2="432.61" y2="426.40000000000003" stroke="#262626" stroke-width="1"/>
<text x="432.61" y="435.60" font-size="7" text-anchor="middle">120</text>
<line x1="457.57" y1="423.6" x2="457.57" y2="426.40000000000003" stroke="#262626" stroke-width="1"/>
<text x="457.57" y="435.60" font-size="7" text-anchor="middle">144</text>
<line x1="482.54" y1="423.6" x2="482.54" y2="426.40000000000003" stroke="#262626" stroke-width="1"/>
<text x="482.54" y="435.60" font-size="7" text-anchor="middle">168</text>
<line x1="507.50" y1="423.6" x2="507.50" y2="426.40000000000003" stroke="#262626" stroke-width="1"/>
<text x="507.50" y="435.60" font-size="7" text-anchor="middle">192</text>
<text x="277.80" y="282.50" font-size="12" font-weight="bold" style="fill:#111111;stroke:#111111;stroke-width:0.35px">D</text>
<text x="373.70" y="293.00" font-size="9.6" textLength="71.2" lengthAdjust="spacingAndGlyphs">Validation dataset</text>
<text x="462.40" y="394.60" font-size="7.4" textLength="46.60000000000002" lengthAdjust="spacingAndGlyphs">Overall P &lt; .001</text>
<text x="419.60" y="402.60" font-size="7.4" textLength="89.39999999999998" lengthAdjust="spacingAndGlyphs">Low vs. Intermediate: P &lt; .001</text>
<text x="443.90" y="410.50" font-size="7.4" textLength="65.10000000000002" lengthAdjust="spacingAndGlyphs">Low vs. High: P &lt; .001</text>
<text x="418.00" y="418.50" font-size="7.4" textLength="91.0" lengthAdjust="spacingAndGlyphs">Intermediate vs. High: P &lt; .001</text>
<text x="-57.50" y="0" transform="translate(284.90,360.90) rotate(-90)" font-size="8.6" textLength="115.0" lengthAdjust="spacingAndGlyphs">Probability of failure-free survival (%)</text>
<text x="386.90" y="447.50" font-size="8.4" textLength="45" lengthAdjust="spacingAndGlyphs">Time (months)</text>
<text x="309.00" y="459.00" font-size="7.6" textLength="200.4" lengthAdjust="spacingAndGlyphs">Probabilities of failure-free survival at different years of observation</text>
<rect x="306.3" y="463.7" width="206.3" height="44.60000000000002" fill="none" stroke="#1e1e1e" stroke-width="1.15"/>
<line x1="306.3" y1="474.84999999999997" x2="512.6" y2="474.84999999999997" stroke="#1e1e1e" stroke-width="1.15"/>
<line x1="306.3" y1="486.0" x2="512.6" y2="486.0" stroke="#1e1e1e" stroke-width="1.15"/>
<line x1="306.3" y1="497.15" x2="512.6" y2="497.15" stroke="#1e1e1e" stroke-width="1.15"/>
<line x1="352.8" y1="463.7" x2="352.8" y2="508.3" stroke="#1e1e1e" stroke-width="1.15"/>
<line x1="384.7" y1="463.7" x2="384.7" y2="508.3" stroke="#1e1e1e" stroke-width="1.15"/>
<line x1="416.4" y1="463.7" x2="416.4" y2="508.3" stroke="#1e1e1e" stroke-width="1.15"/>
<line x1="448.7" y1="463.7" x2="448.7" y2="508.3" stroke="#1e1e1e" stroke-width="1.15"/>
<line x1="480.5" y1="463.7" x2="480.5" y2="508.3" stroke="#1e1e1e" stroke-width="1.15"/>
<text x="329.55" y="471.88" font-size="7.2" text-anchor="middle">Years</text>
<text x="368.75" y="471.88" font-size="7.2" text-anchor="middle">1</text>
<text x="400.55" y="471.88" font-size="7.2" text-anchor="middle">2</text>
<text x="432.55" y="471.88" font-size="7.2" text-anchor="middle">3</text>
<text x="464.60" y="471.88" font-size="7.2" text-anchor="middle">4</text>
<text x="496.55" y="471.88" font-size="7.2" text-anchor="middle">5</text>
<text x="329.55" y="483.02" font-size="7.2" text-anchor="middle">Low</text>
<text x="368.75" y="483.02" font-size="7.2" text-anchor="middle">97</text>
<text x="400.55" y="483.02" font-size="7.2" text-anchor="middle">96</text>
<text x="432.55" y="483.02" font-size="7.2" text-anchor="middle">95</text>
<text x="464.60" y="483.02" font-size="7.2" text-anchor="middle">94</text>
<text x="496.55" y="483.02" font-size="7.2" text-anchor="middle">94</text>
<text x="310.80" y="494.18" font-size="7.2" textLength="37.5" lengthAdjust="spacingAndGlyphs">Intermediate</text>
<text x="368.75" y="494.18" font-size="7.2" text-anchor="middle">82</text>
<text x="400.55" y="494.18" font-size="7.2" text-anchor="middle">77</text>
<text x="432.55" y="494.18" font-size="7.2" text-anchor="middle">76</text>
<text x="464.60" y="494.18" font-size="7.2" text-anchor="middle">74</text>
<text x="496.55" y="494.18" font-size="7.2" text-anchor="middle">72</text>
<text x="329.55" y="505.32" font-size="7.2" text-anchor="middle">High</text>
<text x="368.75" y="505.32" font-size="7.2" text-anchor="middle">68</text>
<text x="400.55" y="505.32" font-size="7.2" text-anchor="middle">56</text>
<text x="432.55" y="505.32" font-size="7.2" text-anchor="middle">51</text>
<text x="464.60" y="505.32" font-size="7.2" text-anchor="middle">48</text>
<text x="496.55" y="505.32" font-size="7.2" text-anchor="middle">46</text>
<line x1="49.4" y1="518.3" x2="56" y2="518.3" stroke="#479a46" stroke-width="1.3"/>
<text x="60.00" y="520.80" font-size="7.2" textLength="62.5" lengthAdjust="spacingAndGlyphs">Low (n = 1,179, 37%)</text>
<line x1="128.8" y1="518.3" x2="134.5" y2="518.3" stroke="#4695d0" stroke-width="1.3"/>
<text x="137.50" y="520.80" font-size="7.2" textLength="90" lengthAdjust="spacingAndGlyphs">Intermediate (n = 1,765, 55%)</text>
<line x1="235" y1="518.3" x2="240.5" y2="518.3" stroke="#b92a3a" stroke-width="1.3"/>
<text x="244.00" y="520.80" font-size="7.2" textLength="56" lengthAdjust="spacingAndGlyphs">High (n = 274, 8%)</text>
<rect x="306.9" y="515.3" width="5.300000000000011" height="6" fill="#d0eac5"/>
<text x="315.50" y="520.80" font-size="7.2" textLength="44" lengthAdjust="spacingAndGlyphs">95% CI for low</text>
<rect x="366.2" y="515.3" width="5.5" height="6" fill="#c8e2f6"/>
<text x="374.80" y="520.80" font-size="7.2" textLength="72.2" lengthAdjust="spacingAndGlyphs">95% CI for intermediate</text>
<rect x="452.9" y="515.3" width="5.600000000000023" height="6" fill="#eec2b9"/>
<text x="462.50" y="520.80" font-size="7.2" textLength="46.7" lengthAdjust="spacingAndGlyphs">95% CI for high</text>
<rect x="0.5" y="0.5" width="519" height="528" fill="none" stroke="#555555" stroke-width="1"/>
</svg>
</body></html>
